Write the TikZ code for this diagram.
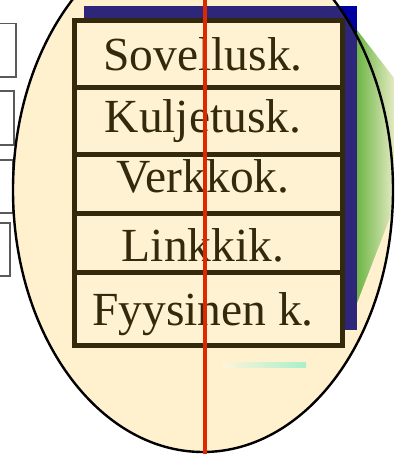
\documentclass[tikz,border=0pt]{standalone}
\usepackage{fontspec}
\setmainfont{Liberation Serif}
\definecolor{cream}{RGB}{255,240,206}
\definecolor{cellfill}{RGB}{255,242,210}
\definecolor{brownline}{RGB}{51,41,12}
\definecolor{navy}{RGB}{46,38,122}
\definecolor{brightblue}{RGB}{0,0,160}
\definecolor{redline}{RGB}{221,40,0}
\definecolor{greenA}{RGB}{110,182,70}
\definecolor{greenB}{RGB}{228,234,194}
\definecolor{mint}{RGB}{168,240,205}
\definecolor{sidegray}{RGB}{90,90,90}
\begin{document}
\begin{tikzpicture}[x=1pt,y=-1pt,
  layertext/.style={font=\fontsize{47.5}{47.5}\selectfont, text=brownline, anchor=base, inner sep=0pt},
  sidebox/.style={draw=sidegray, line width=1.5pt, fill=white},
  stackline/.style={draw=brownline, line width=5pt}]
\useasboundingbox (0,0) rectangle (394,454);
\clip (0,0) rectangle (394,454);
% boxes on the left, partly hidden
\draw[sidebox] (-5,23.5) rectangle (16,77);
\draw[sidebox] (-5,91) rectangle (14,145);
\draw[sidebox] (-5,160) rectangle (13,213);
\draw[sidebox] (-5,223) rectangle (10,276);
% shadow rectangle (outside ellipse part)
\fill[brightblue] (84,6) rectangle (357,330);
% ellipse fill
\coordinate (ec) at (203,190);
\fill[cream] (ec) ellipse [x radius=190pt, y radius=262pt];
\begin{scope}
  \clip (ec) ellipse [x radius=190pt, y radius=262pt];
  \fill[navy] (84,6) rectangle (357,330);
\end{scope}
% green projection
\shade[left color=greenA, right color=greenB] (357,30) -- (394,78) -- (394,207) -- (357,303) -- cycle;
% ellipse border
\draw[line width=2.4pt, black] (ec) ellipse [x radius=190pt, y radius=262pt];
% stack of layers
\draw[stackline, fill=cellfill] (74.5,20.5) rectangle (342.5,345);
\draw[stackline] (74.5,87.5) -- (342.5,87.5);
\draw[stackline] (74.5,154.5) -- (342.5,154.5);
\draw[stackline] (74.5,213.5) -- (342.5,213.5);
\draw[stackline] (74.5,272) -- (342.5,272);
\node[layertext] (l5) at (203,71) {Sovellusk.};
\node[layertext] (l4) at (203,133) {Kuljetusk.};
\node[layertext] (l3) at (203,193) {Verkkok.};
\node[layertext] (l2) at (203,261) {Linkkik.};
\node[layertext] (l1) at (203,325) {Fyysinen k.};
% red vertical line
\draw[redline, line width=4pt] (205,-2) -- (205,456);
% faint mint line
\shade[left color=cream!80!white, right color=mint] (223,362) rectangle (306,367);
\end{tikzpicture}
\end{document}
